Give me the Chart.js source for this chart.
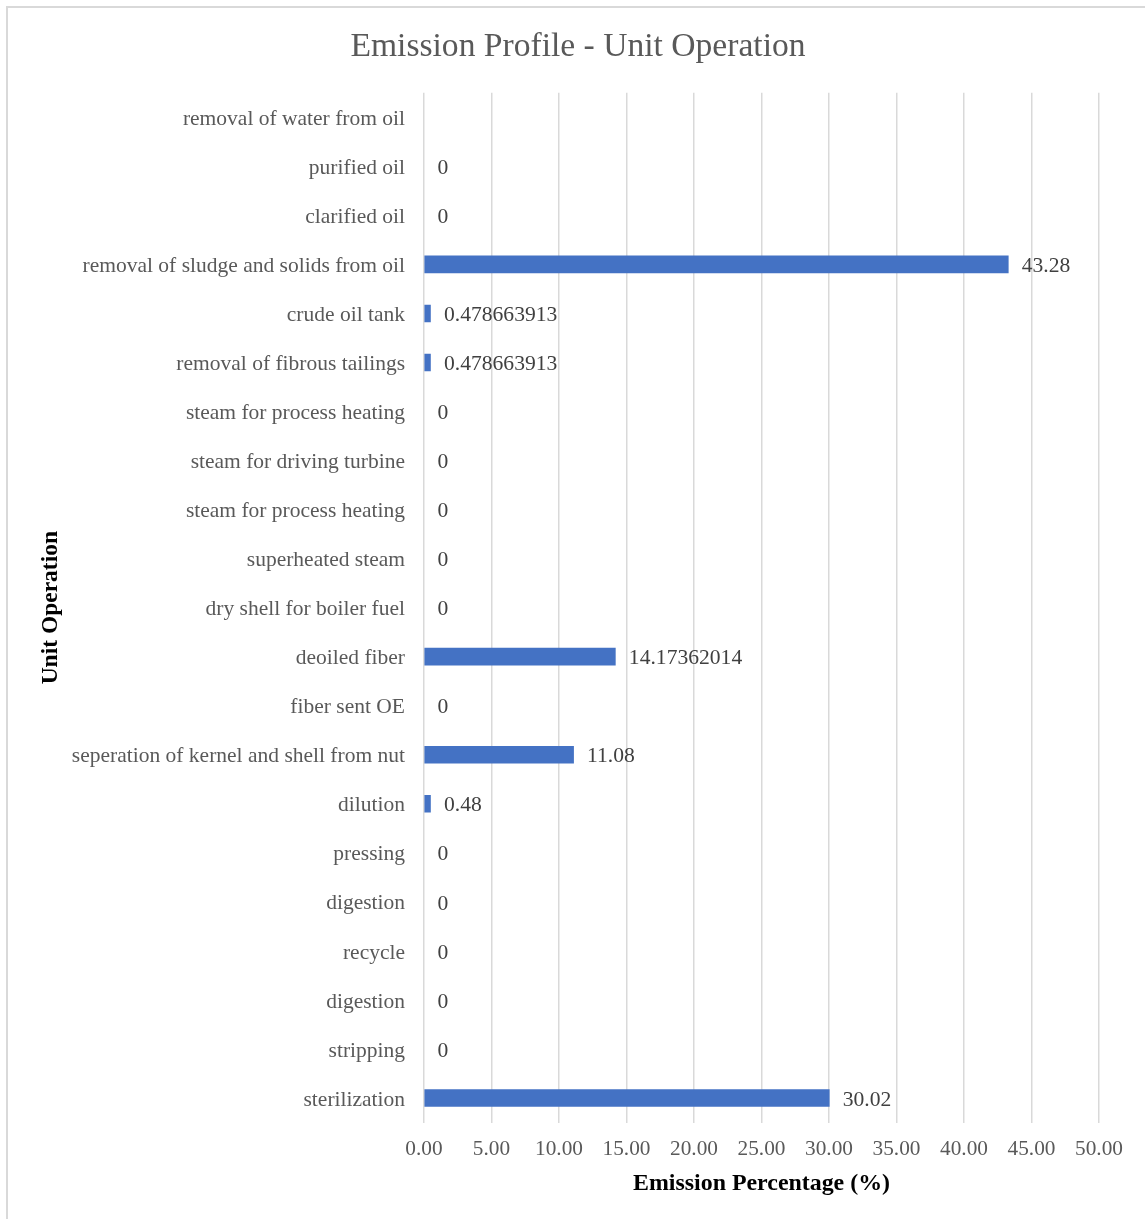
<!DOCTYPE html>
<html>
<head>
<meta charset="utf-8">
<script src="https://cdn.jsdelivr.net/npm/chart.js@4"></script>
<style>
  body { margin: 0; background: #fff; overflow: hidden; }
  #frame { position: absolute; left: 6px; top: 6px; width: 1200px; height: 1260px; border: 2px solid #d9d9d9; }
  #myChart { position: absolute; left: 0; top: 0; }
</style>
</head>
<body>
<div id="frame"></div>
<canvas id="myChart" width="1145" height="1219"></canvas>
<script>
const categories = [
    "removal of water from oil", "purified oil", "clarified oil",
    "removal of sludge and solids from oil", "crude oil tank", "removal of fibrous tailings",
    "steam for process heating", "steam for driving turbine", "steam for process heating",
    "superheated steam", "dry shell for boiler fuel", "deoiled fiber", "fiber sent OE",
    "seperation of kernel and shell from nut", "dilution", "pressing", "digestion",
    "recycle", "digestion", "stripping", "sterilization"
];
const emission = [
    null, 0, 0, 43.28, 0.478663913, 0.478663913, 0, 0, 0, 0, 0,
    14.17362014, 0, 11.08, 0.48, 0, 0, 0, 0, 0, 30.02
];
const xTicks = [0, 5, 10, 15, 20, 25, 30, 35, 40, 45, 50];

const serif = "'Liberation Serif', 'Times New Roman', serif";

// value labels next to each bar
const valueLabels = {
    id: 'valueLabels',
    afterDatasetsDraw(chart) {
        const c = chart.ctx;
        const meta = chart.getDatasetMeta(0);
        c.save();
        c.font = "21.6px " + serif;
        c.fillStyle = '#404040';
        c.textAlign = 'left';
        c.textBaseline = 'middle';
        meta.data.forEach((bar, i) => {
            const v = emission[i];
            if (v === null) return;
            c.fillText(String(v), bar.x + 13.5, bar.y + 2);
        });
        c.restore();
    }
};

const ctx = document.getElementById('myChart').getContext('2d');

const myChart = new Chart(ctx, {
    type: 'bar',
    data: {
        labels: categories,
        datasets: [{
            label: 'Emission Percentage (%)',
            data: emission,
            backgroundColor: (c) => c.raw === 0 ? 'rgba(0,0,0,0)' : '#4472C4',
            barThickness: 17
        }]
    },
    options: {
        indexAxis: 'y',
        responsive: false,
        animation: false,
        devicePixelRatio: 1,
        layout: { padding: { left: 57, right: 46, top: 0, bottom: 0 } },
        plugins: {
            legend: { display: false },
            tooltip: { enabled: false },
            title: {
                display: true,
                text: 'Emission Profile - Unit Operation',
                color: '#595959',
                font: { family: serif, size: 33.6, weight: 'normal' },
                padding: { top: 27, bottom: 25.5 }
            }
        },
        scales: {
            x: {
                min: 0,
                max: 50,
                afterBuildTicks: (s) => { s.ticks = xTicks.map(v => ({ value: v })); },
                afterFit: (s) => { s.height = 96.5; },
                grid: { color: '#d9d9d9', lineWidth: 1.5, drawTicks: false },
                border: { display: false },
                ticks: {
                    padding: 14,
                    color: '#595959',
                    font: { family: serif, size: 21.3 },
                    callback: (v) => Number(v).toFixed(2)
                },
                title: {
                    display: true,
                    text: 'Emission Percentage (%)',
                    color: '#000',
                    font: { family: serif, size: 23.9, weight: 'bold' },
                    padding: { top: 0, bottom: 21 }
                }
            },
            y: {
                afterFit: (s) => { s.width = 367; },
                grid: { display: false, drawTicks: false },
                border: { display: false },
                ticks: {
                    padding: 19,
                    labelOffset: 2,
                    color: '#595959',
                    font: { family: serif, size: 21.5 },
                    autoSkip: false
                },
                title: {
                    display: true,
                    text: 'Unit Operation',
                    color: '#000',
                    font: { family: serif, size: 23.5, weight: 'bold' },
                    padding: { top: -20, bottom: 0 }
                }
            }
        }
    },
    plugins: [valueLabels]
});
</script>
</body>
</html>
